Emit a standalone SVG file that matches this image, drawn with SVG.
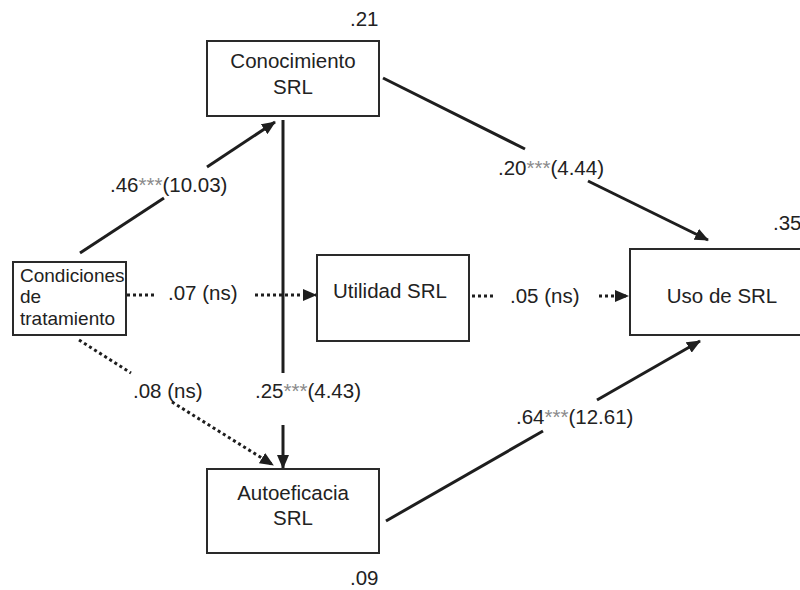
<svg xmlns="http://www.w3.org/2000/svg" width="800" height="590" viewBox="0 0 800 590">
<defs>
<style>
.box{fill:#fff;stroke:#2a2a2a;stroke-width:2}
.t{font-family:"Liberation Sans",Arial,sans-serif;font-size:20.5px;fill:#222}
.ts{font-family:"Liberation Sans",Arial,sans-serif;font-size:19px;fill:#222}
.st{fill:#8a8a8a}
.solid{stroke:#1e1e1e;stroke-width:3;fill:none}
.dot{stroke:#1e1e1e;stroke-width:3;fill:none;stroke-dasharray:3 3}
</style>
<marker id="ah" markerUnits="userSpaceOnUse" markerWidth="14" markerHeight="12" viewBox="0 0 14 12" refX="13" refY="6" orient="auto">
<path d="M0,0 L14,6 L0,12 Z" fill="#1e1e1e"/>
</marker>
</defs>
<rect width="800" height="590" fill="#fff"/>

<g id="connectors">
<!-- Condiciones -> Conocimiento -->
<line class="solid" x1="80" y1="253" x2="164" y2="198"/>
<line class="solid" x1="207" y1="167" x2="275" y2="122" marker-end="url(#ah)"/>
<!-- Conocimiento -> Uso -->
<line class="solid" x1="383" y1="78" x2="525" y2="149"/>
<line class="solid" x1="588" y1="181" x2="708" y2="240" marker-end="url(#ah)"/>
<!-- Conocimiento -> Autoeficacia -->
<line class="solid" x1="283" y1="120" x2="283" y2="373"/>
<line class="solid" x1="283" y1="425" x2="283" y2="468" marker-end="url(#ah)"/>
<!-- Condiciones -> Utilidad -->
<line class="dot" x1="127" y1="295" x2="156" y2="295"/>
<line class="dot" x1="255" y1="295" x2="316" y2="295" marker-end="url(#ah)"/>
<!-- Utilidad -> Uso -->
<line class="dot" x1="472" y1="296" x2="494" y2="296"/>
<line class="dot" x1="599" y1="296" x2="628" y2="296" marker-end="url(#ah)"/>
<!-- Condiciones -> Autoeficacia -->
<line class="dot" x1="79" y1="340" x2="131" y2="373"/>
<line class="dot" x1="172" y1="402" x2="273" y2="465" marker-end="url(#ah)"/>
<!-- Autoeficacia -> Uso -->
<line class="solid" x1="386" y1="521" x2="543" y2="431"/>
<line class="solid" x1="597" y1="400" x2="700" y2="341" marker-end="url(#ah)"/>

<text class="t" x="110" y="192">.46<tspan class="st">***</tspan>(10.03)</text>
<text class="t" x="498" y="175">.20<tspan class="st">***</tspan>(4.44)</text>
<text class="t" x="255" y="398">.25<tspan class="st">***</tspan>(4.43)</text>
<text class="t" x="516" y="424">.64<tspan class="st">***</tspan>(12.61)</text>
<text class="t" x="168" y="300">.07 (ns)</text>
<text class="t" x="510" y="303">.05 (ns)</text>
<text class="t" x="133" y="398">.08 (ns)</text>
</g>

<g id="conocimiento">
<rect class="box" x="207" y="41" width="172" height="75"/>
<text class="t" x="293" y="68" text-anchor="middle">Conocimiento</text>
<text class="t" x="293" y="94" text-anchor="middle">SRL</text>
<text class="t" x="350" y="26">.21</text>
</g>

<g id="condiciones">
<rect class="box" x="13" y="262" width="113" height="73"/>
<text class="ts" x="20" y="282">Condiciones</text>
<text class="ts" x="20" y="303">de</text>
<text class="ts" x="20" y="325">tratamiento</text>
</g>

<g id="utilidad">
<rect class="box" x="317" y="255" width="152" height="86"/>
<text class="t" x="390" y="298" text-anchor="middle">Utilidad SRL</text>
</g>

<g id="uso">
<rect class="box" x="630" y="249" width="172" height="86"/>
<text class="t" x="722" y="303" text-anchor="middle">Uso de SRL</text>
<text class="t" x="773" y="230">.35</text>
</g>

<g id="autoeficacia">
<rect class="box" x="207" y="469" width="172" height="84"/>
<text class="t" x="293" y="500" text-anchor="middle">Autoeficacia</text>
<text class="t" x="293" y="525" text-anchor="middle">SRL</text>
<text class="t" x="350" y="585">.09</text>
</g>
</svg>
